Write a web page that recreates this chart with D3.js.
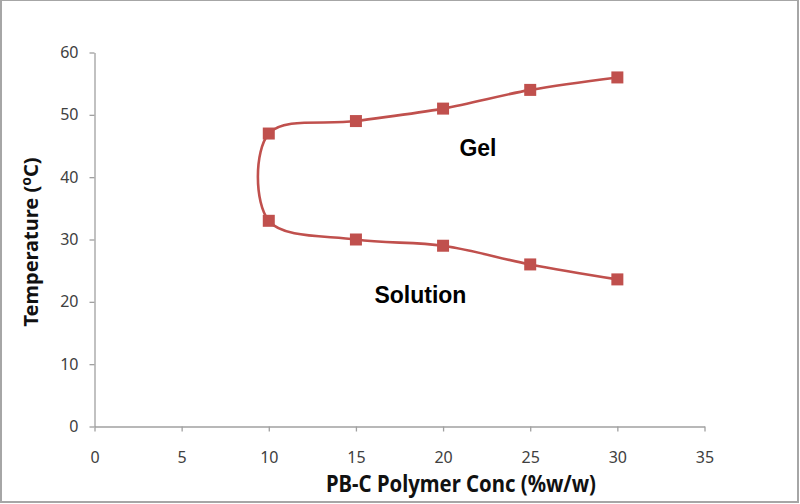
<!DOCTYPE html>
<html>
<head>
<meta charset="utf-8">
<script src="https://cdn.jsdelivr.net/npm/d3@7"></script>
<style>
    body { margin: 0; background: #fff; }
</style>
</head>
<body>
<div id="phaseChart"></div>
<script>
// Sol-gel boundary, traced from the right end along the top branch and back
var concValues = [30, 25, 20, 15, 10, 10, 15, 20, 25, 30];
var tempValues = [56, 54, 51, 49, 47, 33, 30, 29, 26, 23.6];
var xTicks = [0, 5, 10, 15, 20, 25, 30, 35];
var yTicks = [0, 10, 20, 30, 40, 50, 60];
var regionLabels = ["Gel", "Solution"];
var regionConc = [22, 18.7];
var regionTemp = [43.4, 19.8];

/**
 * This method is responsible for appending the svg
 * with the grey frame around the picture.
 * @param {*} className SVG Div id
 */
function appendSVG(className) {
    var svg = d3.select("#" + className)
        .append("svg")
        .attr("width", 800)
        .attr("height", 504);

    svg.append("rect")
        .attr("x", 1)
        .attr("y", 0)
        .attr("width", 797)
        .attr("height", 502)
        .attr("fill", "#fff")
        .attr("stroke", "#a6a6a6")
        .attr("stroke-width", 2);

    return svg;
}

/**
 * This method is responsible for drawing both axes
 * in the grey excel look.
 */
function drawAxes(svg, x, y) {
    var xAxis = svg.append("g")
        .attr("transform", "translate(0," + y(0) + ")")
        .call(d3.axisBottom(x).tickValues(xTicks).tickSizeInner(5).tickSizeOuter(0).tickPadding(20));

    var yAxis = svg.append("g")
        .attr("transform", "translate(" + x(0) + ",0)")
        .call(d3.axisLeft(y).tickValues(yTicks).tickSizeInner(5).tickSizeOuter(0).tickPadding(11));

    [xAxis, yAxis].forEach(function (axis) {
        axis.select(".domain").attr("stroke", "#a0a0a0").attr("stroke-width", 1.3);
        axis.selectAll(".tick line").attr("stroke", "#a0a0a0").attr("stroke-width", 1.3);
        axis.selectAll(".tick text")
            .style("font-family", "'Noto Sans', sans-serif")
            .style("font-size", "16px")
            .attr("fill", "#404040");
    });
}

/**
 * This method is responsible for the axis titles
 */
function addAxisTitles(svg) {
    svg.append("text")
        .attr("x", 461)
        .attr("y", 492)
        .attr("textLength", 270)
        .attr("lengthAdjust", "spacingAndGlyphs")
        .style("text-anchor", "middle")
        .style("font-family", "'Noto Sans', sans-serif")
        .style("font-weight", "bold")
        .style("font-size", "23px")
        .attr("fill", "#111")
        .text("PB-C Polymer Conc (%w/w)");

    var yTitle = svg.append("text")
        .attr("transform", "translate(38,242) rotate(-90)")
        .style("text-anchor", "middle")
        .style("font-family", "'Noto Sans', sans-serif")
        .style("font-weight", "bold")
        .style("font-size", "20px")
        .attr("fill", "#111");
    yTitle.append("tspan").text("Temperature (");
    yTitle.append("tspan").attr("dy", -7).style("font-size", "14px").text("o");
    yTitle.append("tspan").attr("dy", 7).text("C)");
}

function drawChart() {
    var svg = appendSVG("phaseChart");

    var x = d3.scaleLinear().domain([0, 35]).range([94.5, 704.5]);
    var y = d3.scaleLinear().domain([0, 60]).range([426.5, 52.5]);

    drawAxes(svg, x, y);
    addAxisTitles(svg);

    var points = concValues.map(function (c, i) { return [c, tempValues[i]]; });

    // excel "smoothed line" is close to a uniform catmull-rom
    var line = d3.line()
        .x(function (d) { return x(d[0]); })
        .y(function (d) { return y(d[1]); })
        .curve(d3.curveCardinal.tension(0));

    svg.append("path")
        .datum(points)
        .attr("d", line)
        .attr("fill", "none")
        .attr("stroke", "#c0504d")
        .attr("stroke-width", 2.6);

    var size = 12;
    svg.selectAll(".marker")
        .data(points)
        .enter()
        .append("rect")
        .attr("class", "marker")
        .attr("x", function (d) { return x(d[0]) - size / 2; })
        .attr("y", function (d) { return y(d[1]) - size / 2; })
        .attr("width", size)
        .attr("height", size)
        .attr("fill", "#c0504d");

    svg.selectAll(".region")
        .data(regionLabels)
        .enter()
        .append("text")
        .attr("class", "region")
        .attr("x", function (d, i) { return x(regionConc[i]); })
        .attr("y", function (d, i) { return y(regionTemp[i]); })
        .style("text-anchor", "middle")
        .style("font-family", "'Liberation Sans', Arial, sans-serif")
        .style("font-weight", "bold")
        .style("font-size", "23px")
        .attr("fill", "#000")
        .text(function (d) { return d; });
}

drawChart();
</script>
</body>
</html>
